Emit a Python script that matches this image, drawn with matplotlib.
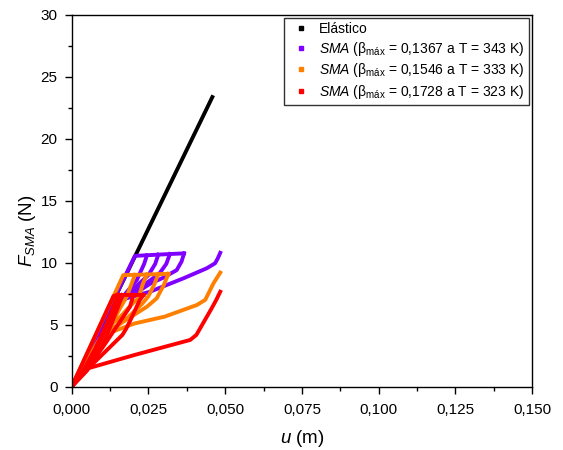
import matplotlib
matplotlib.use("Agg")
import matplotlib.pyplot as plt
from matplotlib.lines import Line2D
from matplotlib.ticker import MultipleLocator, FuncFormatter

plt.rcParams['font.family'] = ['Liberation Sans', 'DejaVu Sans']
plt.rcParams['mathtext.fontset'] = 'custom'
plt.rcParams['mathtext.rm'] = 'Liberation Sans'
plt.rcParams['mathtext.it'] = 'Liberation Sans:italic'
plt.rcParams['mathtext.bf'] = 'Liberation Sans:bold'

# ---------------- data (u in m, F in N) ----------------
elastic_u = [0.0, 0.0461]
elastic_F = [0.0, 23.5]

# SMA 343 K (purple)
p_load_u = [0.0, 0.0206, 0.0245, 0.0282, 0.0320, 0.0366]
p_load_F = [0.0, 10.55, 10.60, 10.65, 10.70, 10.75]
p_b1_u = [0.0245, 0.0236, 0.0212, 0.0185, 0.0155, 0.0]
p_b1_F = [10.60, 9.90, 8.60, 7.80, 6.90, 0.0]
p_b2_u = [0.0282, 0.0272, 0.0250, 0.0215, 0.0175, 0.0155, 0.0]
p_b2_F = [10.65, 9.90, 9.00, 8.20, 7.30, 6.80, 0.0]
p_b3_u = [0.0320, 0.0308, 0.0285, 0.0240, 0.0190, 0.0160, 0.0]
p_b3_F = [10.70, 9.90, 9.10, 8.30, 7.40, 6.90, 0.0]
p_b4_u = [0.0366, 0.0358, 0.0342, 0.0299, 0.0255, 0.0206, 0.0165, 0.0]
p_b4_F = [10.75, 10.10, 9.40, 8.80, 8.30, 7.50, 7.00, 0.0]
p_b5_u = [0.0, 0.0160, 0.0255, 0.0364, 0.0440, 0.0467, 0.0476, 0.0484]
p_b5_F = [0.0, 7.00, 7.66, 8.74, 9.55, 9.95, 10.35, 10.80]

# SMA 333 K (orange)
o_load_u = [0.0, 0.0168, 0.0206, 0.0245, 0.0282, 0.0315]
o_load_F = [0.0, 9.00, 9.02, 9.05, 9.08, 9.10]
o_b1_u = [0.0206, 0.0195, 0.0179, 0.0150, 0.0125, 0.0]
o_b1_F = [9.02, 8.30, 7.26, 6.00, 4.70, 0.0]
o_b2_u = [0.0245, 0.0232, 0.0217, 0.0194, 0.0157, 0.0129, 0.0101, 0.0]
o_b2_F = [9.05, 8.30, 7.13, 6.60, 5.60, 5.00, 4.10, 0.0]
o_b3_u = [0.0282, 0.0270, 0.0250, 0.0230, 0.0184, 0.0130, 0.0100, 0.0]
o_b3_F = [9.08, 8.30, 7.30, 6.70, 5.60, 4.60, 3.90, 0.0]
o_b4_u = [0.0315, 0.0300, 0.0277, 0.0245, 0.0168, 0.0118, 0.0092, 0.0]
o_b4_F = [9.10, 8.20, 7.13, 6.45, 5.24, 4.41, 3.90, 0.0]
o_b5_u = [0.0, 0.0091, 0.0118, 0.0205, 0.0303, 0.0408, 0.0435, 0.0462, 0.0484]
o_b5_F = [0.0, 3.63, 4.30, 5.10, 5.65, 6.59, 7.00, 8.34, 9.20]

# SMA 323 K (red)
r_load_u = [0.0, 0.0136, 0.0147, 0.0201, 0.0234]
r_load_F = [0.0, 7.30, 7.40, 7.40, 7.40]
r_ba_u = [0.0150, 0.0130, 0.0100, 0.0075, 0.0035, 0.0]
r_ba_F = [7.40, 6.00, 4.30, 3.00, 1.20, 0.0]
r_bb_u = [0.0155, 0.0140, 0.0112, 0.0085, 0.0042, 0.0]
r_bb_F = [7.40, 6.50, 4.80, 3.20, 1.30, 0.0]
r_b0_u = [0.0165, 0.0152, 0.0125, 0.0098, 0.0050, 0.0]
r_b0_F = [7.40, 6.50, 4.80, 3.20, 1.30, 0.0]
r_b1_u = [0.0201, 0.0190, 0.0157, 0.0110, 0.0050, 0.0]
r_b1_F = [7.40, 6.45, 5.24, 3.50, 1.40, 0.0]
r_b2_u = [0.0234, 0.0222, 0.0190, 0.0178, 0.0165, 0.0015, 0.0]
r_b2_F = [7.40, 7.00, 5.30, 4.70, 4.17, 0.54, 0.0]
r_b3_u = [0.0, 0.0015, 0.0053, 0.0205, 0.0386, 0.0406, 0.0456, 0.0471, 0.0484]
r_b3_F = [0.0, 0.60, 1.48, 2.56, 3.77, 4.17, 6.32, 7.00, 7.66]

x_ticks = [0.000, 0.025, 0.050, 0.075, 0.100, 0.125, 0.150]
y_ticks = [0, 5, 10, 15, 20, 25, 30]

labels = ["Elástico",
          r"$\it{SMA}$ ($\mathrm{\beta}_{\mathrm{máx}}$ = 0,1367 a T = 343 K)",
          r"$\it{SMA}$ ($\mathrm{\beta}_{\mathrm{máx}}$ = 0,1546 a T = 333 K)",
          r"$\it{SMA}$ ($\mathrm{\beta}_{\mathrm{máx}}$ = 0,1728 a T = 323 K)"]
colors = ["#000000", "#8000FF", "#FF8000", "#FF0000"]

# ---------------- plot ----------------
fig = plt.figure(figsize=(5.63, 4.5), dpi=100)
ax = fig.add_axes([0.1274, 0.1407, 0.8176, 0.8266])

lw = 2.8
ax.plot(elastic_u, elastic_F, color=colors[0], lw=lw, solid_capstyle='butt')

purple = [(p_load_u, p_load_F), (p_b1_u, p_b1_F), (p_b2_u, p_b2_F),
          (p_b3_u, p_b3_F), (p_b4_u, p_b4_F), (p_b5_u, p_b5_F)]
orange = [(o_load_u, o_load_F), (o_b1_u, o_b1_F), (o_b2_u, o_b2_F),
          (o_b3_u, o_b3_F), (o_b4_u, o_b4_F), (o_b5_u, o_b5_F)]
red = [(r_load_u, r_load_F), (r_ba_u, r_ba_F), (r_bb_u, r_bb_F),
       (r_b0_u, r_b0_F), (r_b1_u, r_b1_F), (r_b2_u, r_b2_F), (r_b3_u, r_b3_F)]

for group, c in [(purple, colors[1]), (orange, colors[2]), (red, colors[3])]:
    for u, F in group:
        ax.plot(u, F, color=c, lw=lw, solid_joinstyle='round')

ax.set_xlim(0, 0.150)
ax.set_ylim(0, 30)
ax.set_xticks(x_ticks)
ax.set_yticks(y_ticks)
ax.xaxis.set_minor_locator(MultipleLocator(0.0125))
ax.yaxis.set_minor_locator(MultipleLocator(2.5))
ax.xaxis.set_major_formatter(FuncFormatter(lambda v, p: f"{v:.3f}".replace('.', ',')))
ax.yaxis.set_major_formatter(FuncFormatter(lambda v, p: f"{v:.0f}"))
ax.tick_params(which='major', direction='out', length=5, width=1, labelsize=11)
ax.tick_params(axis='x', which='major', pad=6.6)
ax.tick_params(axis='y', which='major', pad=5.2)
ax.tick_params(which='minor', direction='out', length=3, width=1)
for s in ax.spines.values():
    s.set_linewidth(1.0)

ax.set_xlabel(r"$u$ (m)", fontsize=13.5, labelpad=8)
ax.set_ylabel(r"$F_{SMA}$ (N)", fontsize=13.5)
ax.yaxis.set_label_coords(-0.073, 0.42)

handles = [Line2D([], [], color=c, marker='s', ms=3, ls='none') for c in colors]
leg = ax.legend(handles, labels, loc='upper right', fontsize=10, frameon=True,
                fancybox=False, edgecolor='black', borderaxespad=0.25,
                handlelength=1.75, handletextpad=0.45, labelspacing=0.25,
                borderpad=0.3)
leg.get_frame().set_linewidth(1.0)

fig.savefig("out.png", dpi=100)
